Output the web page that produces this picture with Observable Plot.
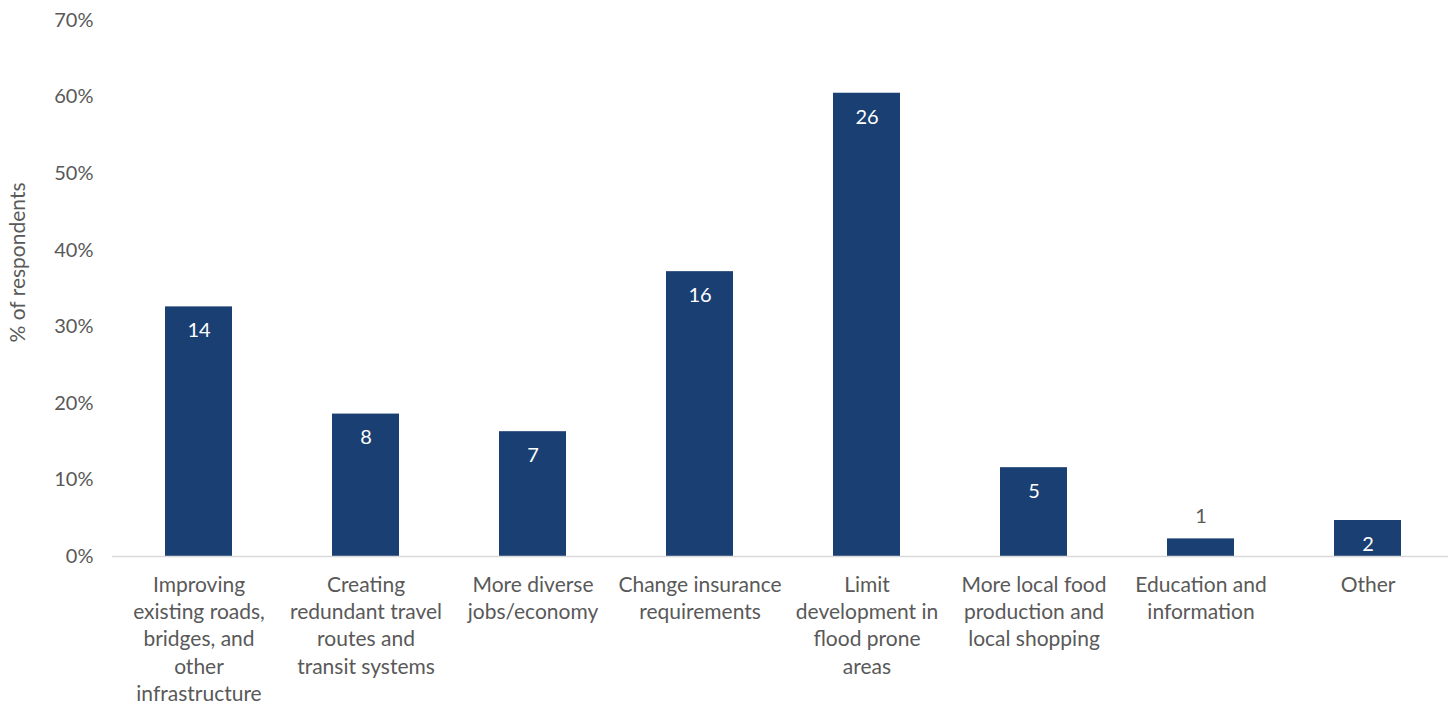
<!DOCTYPE html>
<html>
<head>
<meta charset="utf-8">
<script src="https://cdn.jsdelivr.net/npm/d3@7"></script>
<script src="https://cdn.jsdelivr.net/npm/@observablehq/plot@0.6"></script>
<style>
  html, body { margin: 0; padding: 0; background: #fff; }
  #chart svg { display: block; }
</style>
</head>
<body>
<div id="chart"></div>
<script>
const categories = [
  "Improving\nexisting roads,\nbridges, and\nother\ninfrastructure",
  "Creating\nredundant travel\nroutes and\ntransit systems",
  "More diverse\njobs/economy",
  "Change insurance\nrequirements",
  "Limit\ndevelopment in\nflood prone\nareas",
  "More local food\nproduction and\nlocal shopping",
  "Education and\ninformation",
  "Other"
];
const percents = [32.6, 18.6, 16.3, 37.2, 60.5, 11.6, 2.3, 4.7];
const counts = [14, 8, 7, 16, 26, 5, 1, 2];
const yTicks = [0, 10, 20, 30, 40, 50, 60, 70];

const data = categories.map((c, i) => ({cat: c, pct: percents[i], n: counts[i]}));
const textColor = "#595959";
const barColor = "#1a3f73";
const font = "Lato, 'Open Sans', sans-serif";

const chart = Plot.plot({
  width: 1455,
  height: 704,
  marginLeft: 112,
  marginRight: 1,
  marginTop: 20,
  marginBottom: 148,
  style: {fontFamily: font, fontSize: "20px", color: textColor, background: "#fff"},
  x: {domain: categories, paddingInner: 0.6, paddingOuter: 0.3, axis: null},
  y: {domain: [0, 70], axis: null},
  marks: [
    Plot.barY(data, {x: "cat", y: "pct", fill: barColor}),
    Plot.ruleY([0], {stroke: "#d9d9d9", strokeWidth: 1.5, insetRight: 6}),
    Plot.axisY({ticks: yTicks, tickSize: 0, tickPadding: 19, tickFormat: d => d + "%", label: null, fontSize: 20, fill: textColor}),
    Plot.text(["% of respondents"], {frameAnchor: "left", textAnchor: "middle", rotate: -90, dx: -94, dy: -26, fontSize: 21, fill: textColor}),
    Plot.text(data, {x: "cat", text: "cat", frameAnchor: "bottom", lineAnchor: "top", dy: 16, fontSize: 21, lineHeight: 1.3, fill: textColor}),
    Plot.text(data.filter(d => d.pct >= 4), {x: "cat", y: "pct", text: "n", dy: 24, fontSize: 20, fill: "#fff"}),
    Plot.text(data.filter(d => d.pct < 4), {x: "cat", y: "pct", text: "n", dy: -22, fontSize: 20, fill: textColor})
  ]
});
document.getElementById("chart").append(chart);
</script>
</body>
</html>
